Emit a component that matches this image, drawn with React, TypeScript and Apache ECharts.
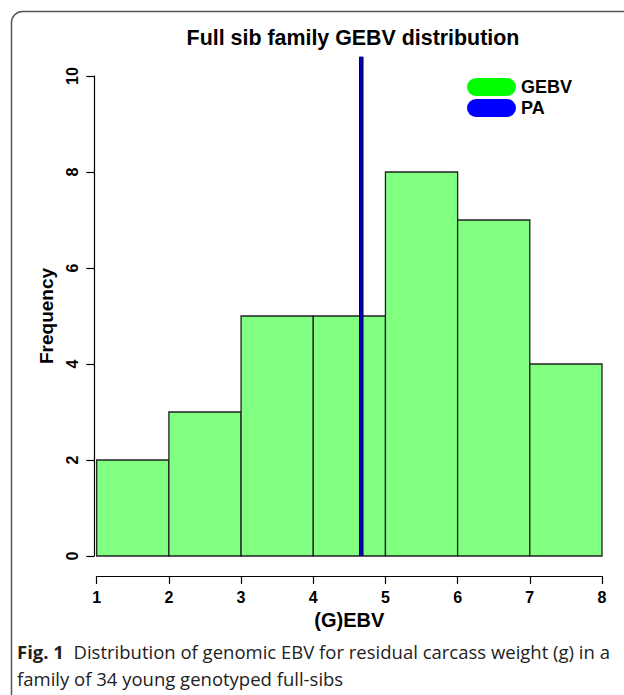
import React, { useEffect, useRef } from "react";
import * as echarts from "echarts";

const binEdges = [1, 2, 3, 4, 5, 6, 7, 8];
const counts = [2, 3, 5, 5, 8, 7, 4];
const paValue = 4.665;
const yTicks = [0, 2, 4, 6, 8, 10];
const xTicks = [1, 2, 3, 4, 5, 6, 7, 8];
const legendNames = ["GEBV", "PA"];
const legendColors = ["#00ff00", "#0000ff"];

const SANS = "'Liberation Sans', Arial, sans-serif";
const PILL = "path://M9,0 H40 A9,9 0 0 1 40,18 H9 A9,9 0 0 1 9,0 Z";

export default function App() {
  const ref = useRef<HTMLDivElement>(null);
  useEffect(() => {
    if (!ref.current) return;
    const chart = echarts.init(ref.current, null, { renderer: "svg" });
    const bins = counts.map((c, i) => [binEdges[i], binEdges[i + 1], c]);
    const option: any = {
      animation: false,
      backgroundColor: "#ffffff",
      grid: { left: 96.7, right: 22, top: 76, bottom: 139 },
      xAxis: {
        type: "value",
        min: xTicks[0],
        max: xTicks[xTicks.length - 1],
        interval: 1,
        offset: 20,
        name: "(G)EBV",
        nameLocation: "middle",
        nameGap: 34,
        nameTextStyle: { fontFamily: SANS, fontWeight: "bold", fontSize: 20, color: "#000" },
        axisLine: { show: true, onZero: false, lineStyle: { color: "#000", width: 1.2 } },
        axisTick: { show: true, length: 8, lineStyle: { color: "#000", width: 1.2 } },
        axisLabel: { fontFamily: SANS, fontWeight: "bold", fontSize: 16, color: "#000", margin: 13 },
        splitLine: { show: false },
      },
      yAxis: {
        type: "value",
        min: 0,
        max: yTicks[yTicks.length - 1],
        interval: 2,
        offset: 2.4,
        name: "Frequency",
        nameLocation: "middle",
        nameGap: 38,
        nameTextStyle: { fontFamily: SANS, fontWeight: "bold", fontSize: 19, color: "#000" },
        axisLine: { show: true, onZero: false, lineStyle: { color: "#000", width: 1.2 } },
        axisTick: { show: true, length: 8, lineStyle: { color: "#000", width: 1.2 } },
        axisLabel: { fontFamily: SANS, fontWeight: "bold", fontSize: 16, color: "#000", margin: 14, rotate: 90 },
        splitLine: { show: false },
      },
      legend: {
        orient: "vertical",
        left: 462,
        top: 73,
        itemWidth: 49,
        itemHeight: 18,
        itemGap: 3,
        itemTextGap: 7,
        itemStyle: { borderWidth: 0 },
        textStyle: { fontFamily: SANS, fontWeight: "bold", fontSize: 18, color: "#000" },
        data: legendNames.map((n, i) => ({ name: n, icon: PILL, itemStyle: { color: legendColors[i] } })),
      },
      series: [
        {
          name: "GEBV",
          type: "custom",
          data: bins,
          renderItem: (params: any, api: any) => {
            const x0 = api.value(0);
            const x1 = api.value(1);
            const c = api.value(2);
            const p0 = api.coord([x0, c]);
            const p1 = api.coord([x1, 0]);
            return {
              type: "rect",
              shape: { x: p0[0], y: p0[1], width: p1[0] - p0[0], height: p1[1] - p0[1] },
              style: { fill: "#80ff80", stroke: "#222", lineWidth: 1.3 },
            };
          },
          encode: { x: [0, 1], y: 2 },
          itemStyle: { color: "#80ff80" },
          z: 2,
        },
        {
          name: "PA",
          type: "line",
          data: [[paValue, 0], [paValue, 10.4]],
          symbol: "none",
          clip: false,
          lineStyle: { color: "#000030", width: 4.5 },
          itemStyle: { color: "#0000ff" },
          z: 3,
        },
        {
          name: "PA-core",
          type: "line",
          data: [[paValue, 0], [paValue, 10.4]],
          symbol: "none",
          clip: false,
          lineStyle: { color: "#0000c0", width: 2.5 },
          z: 4,
        },
      ],
      graphic: [
        {
          type: "rect",
          shape: { x: 11.5, y: 11.5, width: 700, height: 800, r: [11, 0, 0, 0] },
          style: { fill: "none", stroke: "#555", lineWidth: 1.5 },
          silent: true,
        },
        {
          type: "text",
          x: 353,
          y: 38,
          style: {
            text: "Full sib family GEBV distribution",
            fontFamily: SANS,
            fontWeight: "bold",
            fontSize: 21.4,
            fill: "#000",
            textAlign: "center",
            textVerticalAlign: "middle",
          },
        },
        {
          type: "text",
          x: 17,
          y: 638,
          style: {
            text: "{b|Fig. 1}  Distribution of genomic EBV for residual carcass weight (g) in a\nfamily of 34 young genotyped full-sibs",
            fontFamily: "'Open Sans', sans-serif",
            fontSize: 18.5,
            lineHeight: 27,
            fill: "#222",
            rich: {
              b: { fontFamily: "'Open Sans', sans-serif", fontWeight: "bold", fontSize: 18.5, fill: "#222", lineHeight: 27 },
            },
          },
        },
      ],
    };
    chart.setOption(option);
    return () => chart.dispose();
  }, []);
  return (
    <div
      ref={ref}
      style={{ position: "fixed", left: 0, top: 0, width: 624, height: 695 }}
    />
  );
}
